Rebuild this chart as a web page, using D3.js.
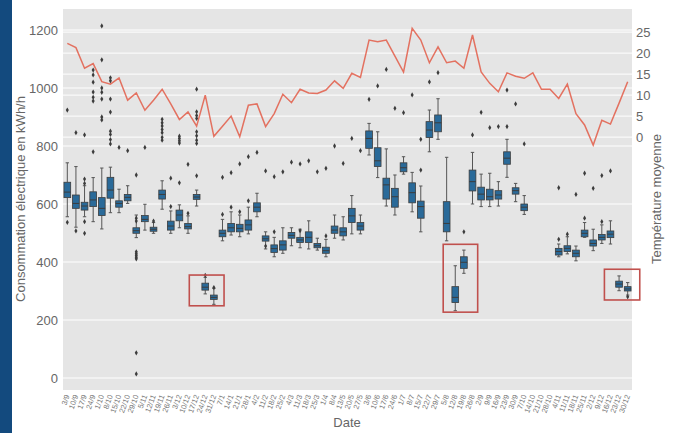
<!DOCTYPE html>
<html>
<head>
<meta charset="utf-8">
<script src="https://cdn.jsdelivr.net/npm/d3@7"></script>
<style>
  body { margin: 0; background: #fff; }
  svg { display: block; font-family: "Liberation Sans", Arial, sans-serif; }
</style>
</head>
<body>
<svg id="chart" width="673" height="433"></svg>
<script>
// weekly categories (week start dates)
const dates = ["3/9","10/9","17/9","24/9","1/10","8/10","15/10","22/10","29/10","5/11","12/11","19/11","26/11",
  "3/12","10/12","17/12","24/12","31/12","7/1","14/1","21/1","28/1","4/2","11/2","18/2","25/2","4/3","11/3",
  "18/3","25/3","1/4","8/4","13/5","20/5","27/5","3/6","10/6","17/6","24/6","1/7","8/7","15/7","22/7","29/7",
  "5/8","12/8","19/8","26/8","2/9","9/9","16/9","23/9","30/9","7/10","14/10","21/10","28/10","4/11","11/11",
  "18/11","25/11","2/12","9/12","16/12","23/12","30/12"];

// box statistics, consumption in kWh/h (null = no data that week)
const whiskerLow = [556,520,556,539,514,570,570,602,484,510,499,582,499,518,499,593,290,254,473,493,487,497,556,445,
  418,430,456,449,445,441,418,482,476,497,497,769,691,593,562,703,573,504,780,823,473,232,361,600,591,591,593,692,608,564,
  null,null,null,418,428,404,485,439,464,462,301,286];
const q1 = [622,585,579,591,560,620,589,611,499,539,506,617,510,542,514,616,303,271,487,504,504,510,573,472,
  433,441,482,467,467,449,430,499,490,536,510,792,729,617,589,711,604,551,829,849,504,260,378,645,614,614,617,737,634,577,
  null,null,null,424,436,418,487,455,476,484,313,300];
const median = [641,602,593,614,585,648,602,623,508,547,513,633,524,562,522,624,313,278,499,518,516,528,589,480,
  446,459,492,476,485,456,439,510,504,559,524,826,749,666,625,725,639,591,855,880,533,278,399,677,634,625,631,758,646,589,
  null,null,null,436,447,430,499,464,485,496,324,307];
const q3 = [675,631,606,642,622,692,611,633,518,560,520,648,541,579,533,633,327,286,510,533,530,545,604,490,
  459,473,502,485,504,464,451,524,518,585,536,852,794,689,654,742,673,610,884,907,608,315,418,717,658,651,646,780,656,600,
  null,null,null,447,456,441,510,476,495,507,334,315];
const whiskerHigh = [742,729,663,691,724,727,651,663,562,599,536,680,576,597,559,648,347,309,547,573,562,589,637,504,
  485,518,518,513,542,482,478,562,556,629,562,878,849,790,700,763,709,662,924,963,761,387,441,778,703,706,677,823,671,629,
  null,null,null,462,487,455,536,513,528,542,352,329];
const outliers = [
  [924,537],[846,507],[838,686,671,539,499],[1062,1045,1020,986,968,955,780],[1214,1097,1000,985,962,900,890],
  [1035,1025,962,917,851,840,822,807],[795],[784],[700,551,541,435,428,422,416,411,87,14],[795],[541],
  [892,880,869,857,846,830,820],[689,591],[834,826,818,810,673],[737,568],[996,918,905,895,849,835,820,809,697],
  [354],[312],[692,564],[708,589],[738,573],[763,611],[778],[714,455],[694,504],[711],[744],[738,508],[749],[711],
  [723,490],[800],[740],[826],[784],[961],[1007],[1064],[930],[915],[976],[823,717],[1021],[1053],[],[],[504],
  [838],[916],[863],[867],[993,867],[945],[807],[],[],[],[656,478],[496],[633],[706,551],[654],[698,539],[714],[],[280]
];

// weekly mean temperature (°C)
const temperature = [22.3,21.3,16.4,17.5,13.2,12.6,14.1,8.8,10.5,6.4,8.8,11.4,7.9,4.2,6.0,2.6,10.0,0.2,2.6,5.0,
  0.1,7.6,7.9,2.5,5.6,10.2,8.2,11.4,10.5,10.4,11.2,13.4,11.6,15.2,14.2,23.1,22.7,23.1,19.3,15.5,
  25.9,23.1,17.7,21.5,17.7,18.1,16.4,24.3,15.5,12.8,10.8,15.3,14.5,14.0,15.3,11.4,11.4,9.2,12.6,5.6,
  2.9,-1.9,4.0,3.1,8.1,13.2];

const leftTicks = [0, 200, 400, 600, 800, 1000, 1200];
const rightTicks = [0, 5, 10, 15, 20, 25];

// highlighted holiday weeks: [first index, last index, low kWh, high kWh]
const highlightFrom = [14.15, 43.6, 62.3];
const highlightTo = [18.18, 47.6, 66.4];
const highlightLow = [249, 227, 269];
const highlightHigh = [355, 461, 375];

const plot = { left: 63, right: 632, top: 9, bottom: 390 };
const svg = d3.select("#chart");

svg.append("rect").attr("x", 0).attr("y", 0).attr("width", 12).attr("height", 433).attr("fill", "#134a7e");

const x = d3.scaleBand().domain(dates).range([plot.left, plot.right]);
const bw = x.bandwidth();
const xi = d3.scaleLinear().domain([-0.5, dates.length - 0.5]).range([plot.left, plot.right]);
const y = d3.scaleLinear().domain([-41.4, 1272.4]).range([plot.bottom, plot.top]);
const yT = d3.scaleLinear().domain([-60.2, 30.5]).range([plot.bottom, plot.top]);

svg.append("rect")
    .attr("x", plot.left).attr("y", plot.top)
    .attr("width", plot.right - plot.left).attr("height", plot.bottom - plot.top)
    .attr("fill", "#e5e5e5");

// grid lines for both y axes
svg.append("g").selectAll("line").data(leftTicks).join("line")
    .attr("x1", plot.left).attr("x2", plot.right)
    .attr("y1", d => y(d)).attr("y2", d => y(d))
    .attr("stroke", "#fff").attr("stroke-width", 1);
svg.append("g").selectAll("line").data(rightTicks).join("line")
    .attr("x1", plot.left).attr("x2", plot.right)
    .attr("y1", d => yT(d)).attr("y2", d => yT(d))
    .attr("stroke", "#fff").attr("stroke-width", 1);

// axes
const leftAxis = svg.append("g")
    .attr("transform", `translate(${plot.left},0)`)
    .call(d3.axisLeft(y).tickValues(leftTicks).tickFormat(d3.format("d")).tickSize(0).tickPadding(5));
leftAxis.select(".domain").remove();
leftAxis.selectAll("text").attr("fill", "#666").style("font-size", "13px");

const rightAxis = svg.append("g")
    .attr("transform", `translate(${plot.right},0)`)
    .call(d3.axisRight(yT).tickValues(rightTicks).tickSize(0).tickPadding(4));
rightAxis.select(".domain").remove();
rightAxis.selectAll("text").attr("fill", "#666").style("font-size", "13px");

const bottomAxis = svg.append("g")
    .attr("transform", `translate(0,${plot.bottom})`)
    .call(d3.axisBottom(x).tickSize(0));
bottomAxis.select(".domain").remove();
bottomAxis.selectAll("text")
    .attr("x", 0).attr("y", 0).attr("dy", "0.35em")
    .attr("text-anchor", "end")
    .attr("transform", "translate(0,5) rotate(-70)")
    .attr("fill", "#777").style("font-size", "7.5px");

// boxplots
const boxW = bw * 0.78;
const boxColor = "#2a6a99";
const lineColor = "#3c3c3c";
const boxes = svg.append("g");
dates.forEach((d, i) => {
    if (q1[i] === null) return;
    const cx = x(d) + bw / 2;
    const g = boxes.append("g");
    g.append("line").attr("x1", cx).attr("x2", cx)
        .attr("y1", y(whiskerHigh[i])).attr("y2", y(q3[i]))
        .attr("stroke", "#555").attr("stroke-width", 1);
    g.append("line").attr("x1", cx).attr("x2", cx)
        .attr("y1", y(q1[i])).attr("y2", y(whiskerLow[i]))
        .attr("stroke", "#555").attr("stroke-width", 1);
    [whiskerHigh[i], whiskerLow[i]].forEach(v => {
        g.append("line").attr("x1", cx - boxW / 4).attr("x2", cx + boxW / 4)
            .attr("y1", y(v)).attr("y2", y(v))
            .attr("stroke", "#555").attr("stroke-width", 1);
    });
    g.append("rect")
        .attr("x", cx - boxW / 2).attr("width", boxW)
        .attr("y", y(q3[i])).attr("height", Math.max(1, y(q1[i]) - y(q3[i])))
        .attr("fill", boxColor).attr("stroke", lineColor).attr("stroke-width", 0.8);
    g.append("line").attr("x1", cx - boxW / 2).attr("x2", cx + boxW / 2)
        .attr("y1", y(median[i])).attr("y2", y(median[i]))
        .attr("stroke", lineColor).attr("stroke-width", 1);
    g.selectAll("path").data(outliers[i]).join("path")
        .attr("d", d3.symbol(d3.symbolDiamond).size(8))
        .attr("transform", v => `translate(${cx},${y(v)})`)
        .attr("fill", "#3c3c3c");
});

// temperature line
const line = d3.line()
    .x((d, i) => x(dates[i]) + bw / 2)
    .y(d => yT(d));
svg.append("path")
    .datum(temperature)
    .attr("fill", "none")
    .attr("stroke", "#E24A33")
    .attr("stroke-opacity", 0.75)
    .attr("stroke-width", 1.5)
    .attr("d", line);

// highlight rectangles
svg.append("g").selectAll("rect").data(highlightFrom).join("rect")
    .attr("x", (d, i) => xi(d))
    .attr("width", (d, i) => xi(highlightTo[i]) - xi(d))
    .attr("y", (d, i) => y(highlightHigh[i]))
    .attr("height", (d, i) => y(highlightLow[i]) - y(highlightHigh[i]))
    .attr("fill", "none").attr("stroke", "#c0504d").attr("stroke-width", 1.6);

// axis titles
svg.append("text")
    .attr("transform", "translate(25,199) rotate(-90)")
    .attr("text-anchor", "middle")
    .attr("fill", "#666").style("font-size", "13px")
    .text("Consommation électrique en kWh/h");
svg.append("text")
    .attr("transform", "translate(661,199) rotate(-90)")
    .attr("text-anchor", "middle")
    .attr("fill", "#666").style("font-size", "13px")
    .text("Température moyenne");
svg.append("text")
    .attr("x", 347).attr("y", 427)
    .attr("text-anchor", "middle")
    .attr("fill", "#666").style("font-size", "13px")
    .text("Date");
</script>
</body>
</html>
